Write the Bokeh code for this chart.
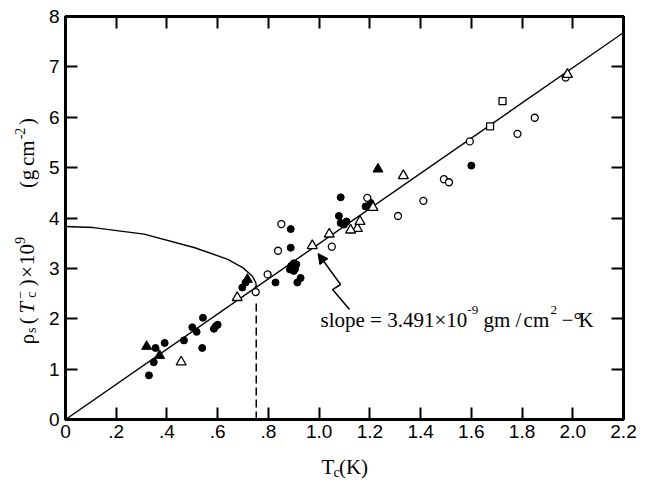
import math
from bokeh.plotting import figure
from bokeh.layouts import row, column
from bokeh.models import (Range1d, LinearAxis, FixedTicker, Label, Slope, Arrow,
                          NormalHead, CustomJSTickFormatter)
from bokeh.core.properties import value
from bokeh.embed import file_html
from bokeh.resources import INLINE

# ---------------- data ----------------
fit_slope = 3.491          # x 10^-9 g cm^-2 K^-1
x_ticks = [0, 0.2, 0.4, 0.6, 0.8, 1.0, 1.2, 1.4, 1.6, 1.8, 2.0, 2.2]
x_tick_labels = ["0", ".2", ".4", ".6", ".8", "1.0", "1.2", "1.4", "1.6", "1.8", "2.0", "2.2"]
y_ticks = [0, 1, 2, 3, 4, 5, 6, 7, 8]

filled_circle_x = [0.355, 0.391, 0.348, 0.329, 0.467, 0.500, 0.517, 0.542, 0.539,
                   0.585, 0.592, 0.600, 0.697, 0.828, 0.888, 0.888,
                   0.890, 0.900, 0.910, 0.885, 0.900, 0.895, 0.905, 0.927, 0.914,
                   1.085, 1.078, 1.085, 1.108, 1.098, 1.183, 1.203, 1.600, 0.710]
filled_circle_y = [1.42, 1.52, 1.135, 0.876, 1.57, 1.83, 1.74, 2.02, 1.42,
                   1.80, 1.85, 1.88, 2.62, 2.72, 3.78, 3.41,
                   3.05, 2.95, 3.08, 2.98, 3.10, 3.00, 2.99, 2.81, 2.72,
                   4.41, 4.04, 3.90, 3.93, 3.87, 4.23, 4.30, 5.04, 2.72]

filled_triangle_x = [0.320, 0.371, 0.717, 1.232]
filled_triangle_y = [1.45, 1.27, 2.78, 4.97]

open_triangle_x = [0.456, 0.677, 0.973, 1.040, 1.151, 1.124, 1.161, 1.212, 1.332, 1.979]
open_triangle_y = [1.14, 2.42, 3.45, 3.68, 3.79, 3.76, 3.93, 4.21, 4.84, 6.85]

open_circle_x = [0.750, 0.797, 0.851, 0.838, 1.050, 1.190, 1.311, 1.411, 1.492,
                 1.512, 1.594, 1.782, 1.850, 1.972]
open_circle_y = [2.53, 2.88, 3.88, 3.35, 3.43, 4.40, 4.04, 4.34, 4.77,
                 4.71, 5.52, 5.67, 5.99, 6.79]

open_square_x = [1.674, 1.723]
open_square_y = [5.82, 6.32]

# theoretical curve
curve_x = [0.0, 0.11, 0.31, 0.51, 0.64, 0.70, 0.736, 0.750, 0.752, 0.747]
curve_y = [3.83, 3.81, 3.68, 3.41, 3.18, 3.01, 2.85, 2.72, 2.66, 2.60]

# dashed marker at Tc
tc_mark_x = [0.752, 0.752]
tc_mark_y = [0.0, 2.35]

# lightning arrow pointing at the fit line (tip first)
arrow_x = [0.9957, 1.0844, 1.0529, 1.1199]
arrow_y = [3.295, 2.680, 2.580, 2.184]

SERIF = "Liberation Serif"

# ---------------- main figure ----------------
p = figure(width=604, height=447, x_range=Range1d(0, 2.2), y_range=Range1d(0, 8),
           output_backend="svg", toolbar_location=None,
           min_border_left=21, min_border_right=25, min_border_top=16, min_border_bottom=28)
p.background_fill_color = "white"
p.border_fill_color = "white"
p.xgrid.visible = False
p.ygrid.visible = False
p.outline_line_color = "black"
p.outline_line_width = 3

bottom = p.below[0]
left = p.left[0]

xfmt = CustomJSTickFormatter(args=dict(tvals=x_ticks, tlabels=x_tick_labels),
    code="const i = tvals.findIndex(t => Math.abs(t - tick) < 1e-6); return i >= 0 ? tlabels[i] : '';")
blank = CustomJSTickFormatter(code="return '';")
blank2 = CustomJSTickFormatter(code="return '';")

top = LinearAxis(formatter=blank, major_label_standoff=0)
right = LinearAxis(formatter=blank2, major_label_standoff=0)
p.add_layout(top, "above")
p.add_layout(right, "right")

bottom.ticker = FixedTicker(ticks=x_ticks)
top.ticker = FixedTicker(ticks=x_ticks)
left.ticker = FixedTicker(ticks=y_ticks)
right.ticker = FixedTicker(ticks=y_ticks)
bottom.formatter = xfmt

for ax in [bottom, left, top, right]:
    ax.axis_line_width = 3
    ax.axis_line_color = "black"
    ax.major_tick_in = 12
    ax.major_tick_out = 0
    ax.major_tick_line_width = 2
    ax.major_tick_line_color = "black"
    ax.minor_tick_line_color = None
    ax.major_label_text_font = "Liberation Sans"
    ax.major_label_text_font_size = "19px"
    ax.major_label_text_color = "black"

bottom.major_label_standoff = 5
left.major_label_standoff = 6

# fit line
slope = Slope(gradient=fit_slope, y_intercept=0, line_color="black", line_width=1.4)
slope.level = "underlay"
p.add_layout(slope)

# curve and dashed line
p.line(curve_x, curve_y, line_color="black", line_width=1.4)
p.line(tc_mark_x, tc_mark_y, line_color="black", line_width=1.5, line_dash="8 4")

# data points
p.scatter(filled_circle_x, filled_circle_y, marker="circle", size=7,
          fill_color="black", line_color="black")
p.scatter(filled_triangle_x, filled_triangle_y, marker="triangle", size=10,
          fill_color="black", line_color="black")
p.scatter(open_circle_x, open_circle_y, marker="circle", size=7,
          fill_color="white", line_color="black", line_width=1.3)
p.scatter(open_triangle_x, open_triangle_y, marker="triangle", size=10,
          fill_color="white", line_color="black", line_width=1.3)
p.scatter(open_square_x, open_square_y, marker="square", size=7,
          fill_color="white", line_color="black", line_width=1.3)

# arrow
p.add_layout(Arrow(end=NormalHead(size=10, fill_color="black", line_color="black"),
                   x_start=arrow_x[1], y_start=arrow_y[1], x_end=arrow_x[0], y_end=arrow_y[0],
                   line_color="black", line_width=1.5))
p.line(arrow_x[1:], arrow_y[1:], line_color="black", line_width=1.5)

def lab(x, y, text, size, style="normal"):
    p.add_layout(Label(x=x, y=y, text=text, text_font=SERIF, text_font_size=size,
                       text_font_style=style, text_color="black",
                       text_align="left", text_baseline="alphabetic"))

# slope annotation
by, sy = 1.985, 2.164
lab(1.0055, by, "slope =", "21px")
lab(1.2685, by, "3.491", "21px")
lab(1.4547, by, "×", "21px")
lab(1.5016, by, "10", "21px")
lab(1.5844, sy, "-9", "13px")
lab(1.6483, by, "gm", "21px")
lab(1.7744, by, "/", "21px")
lab(1.8060, by, "cm", "21px")
lab(1.9125, sy, "2", "13px")
lab(1.9558, by, "−", "21px")
lab(2.0032, by, "°", "21px")
lab(2.0229, by, "K", "21px")

# ---------------- y-axis title panel (rotated) ----------------
yl = figure(width=44, height=447, x_range=Range1d(0, 44), y_range=Range1d(0, 447),
            x_axis_type=None, y_axis_type=None, min_border=0, toolbar_location=None,
            output_backend="svg")
yl.outline_line_color = None
yl.background_fill_color = "white"
yl.border_fill_color = "white"

A = math.pi / 2
def ylab(x, y, text, size, style="normal"):
    yl.text(x=[x], y=[y], text=[text], angle=A, text_align="center",
            text_baseline="middle", text_font=value(SERIF), text_font_size=size,
            text_font_style=style, text_color="black")

# x: distance from the left edge, y: distance from the bottom of this panel
xm, xsub, xsup = 26, 31, 19
ylab(xm, 108.4, "ρ", "21px")
ylab(xsub, 117.3, "s", "14px")
ylab(xm, 126.8, "(", "21px")
ylab(xm, 139.8, "T", "21px", style="italic")
ylab(xsub, 152.8, "c", "14px")
ylab(xsup, 152.8, "−", "14px")
ylab(xm, 164.7, ")", "21px")
ylab(xm, 175.3, "×", "21px")
ylab(xm, 193.1, "10", "21px")
ylab(xsup, 207.0, "9", "14px")
ylab(xm, 263.0, "(", "21px")
ylab(xm, 272.4, "g", "21px")
ylab(xm, 294.3, "cm", "21px")
ylab(xsup, 314.0, "-2", "14px")
ylab(xm, 326.0, ")", "21px")

# ---------------- x-axis title panel ----------------
xl = figure(width=604, height=37, x_range=Range1d(0, 604), y_range=Range1d(0, 37),
            x_axis_type=None, y_axis_type=None, min_border=0, toolbar_location=None,
            output_backend="svg")
xl.outline_line_color = None
xl.background_fill_color = "white"
xl.border_fill_color = "white"

def xlab(x, y, text, size):
    xl.text(x=[x], y=[y], text=[text], text_align="left", text_baseline="middle",
            text_font=value(SERIF), text_font_size=size, text_color="black")

xlab(277, 18, "T", "21px")
xlab(290, 12, "c", "14px")
xlab(296, 18, "(K)", "21px")

layout = row(yl, column(p, xl, spacing=0), spacing=0)
open("out.html", "w").write(file_html(layout, INLINE))
